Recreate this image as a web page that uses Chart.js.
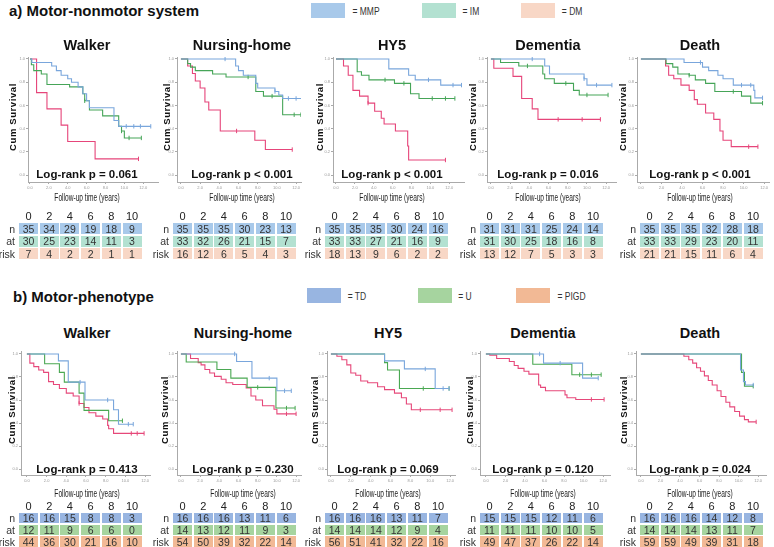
<!DOCTYPE html>
<html>
<head>
<meta charset="utf-8">
<script src="https://cdn.jsdelivr.net/npm/chart.js@4.4.1/dist/chart.umd.min.js"></script>
<style>
  body { margin: 0; width: 774px; height: 547px; position: relative; overflow: hidden; background: #fff;
         font-family: "Liberation Sans", Arial, sans-serif; color: #222; }
  canvas { position: absolute; }
  .t { position: absolute; white-space: nowrap; line-height: 1; }
</style>
</head>
<body>
<script>
// ---- data: survival curves, [years, cum survival, censored?] ----
var walkerMMP = [[0,1],[0.2,0.97],[2.3,0.94],[2.8,0.9],[3.3,0.86],[4.0,0.83],[4.4,0.8],[5.1,0.76],[5.6,0.7],[6.0,0.64],[6.3,0.58],[8.9,0.47],[9.4,0.42],[10.2,0.42,1],[11.0,0.42,1],[11.7,0.42,1],[12.8,0.42,1]];
var walkerIM = [[0,1],[0.15,0.95],[0.4,0.9],[1.2,0.87],[1.8,0.78],[4.2,0.76],[5.6,0.7],[5.8,0.64,1],[6.3,0.56],[7.7,0.51],[9.4,0.42],[9.7,0.38,1],[10.0,0.32],[10.5,0.32,1],[11.8,0.32,1]];
var walkerDM = [[0,1],[0.7,0.71],[1.8,0.57],[3.3,0.43],[4.0,0.29],[6.9,0.14],[11.5,0.14,1]];

var nursingMMP = [[0,1],[4.6,1,1],[5.7,0.94],[6.0,0.9],[6.5,0.86],[7.8,0.79],[8.0,0.75],[9.8,0.72,1],[10.2,0.69],[10.6,0.66],[11.2,0.66,1],[12.0,0.66,1],[12.8,0.66,1]];
var nursingIM = [[0,1],[0.7,0.96],[1.0,0.93],[1.5,0.9],[3.3,0.87],[4.7,0.845],[7.0,0.845,1],[7.8,0.72],[8.6,0.68],[9.5,0.68,1],[10.6,0.52],[11.8,0.52,1],[12.5,0.52,1]];
var nursingDM = [[0,1],[0.7,0.94],[1.2,0.875],[1.5,0.81],[2.0,0.75],[2.5,0.63],[2.9,0.56],[4.1,0.38],[5.8,0.38,1],[7.7,0.3],[8.8,0.22],[11.6,0.22,1]];

var hy5MMP = [[0,1],[5.6,0.915],[7.7,0.86],[8.4,0.82],[9.8,0.82,1],[11.1,0.775],[12.4,0.775,1],[13.3,0.775,1]];
var hy5IM = [[0,1],[2.25,0.89],[2.7,0.86],[3.5,0.82],[5.2,0.82,1],[6.2,0.79],[7.2,0.79,1],[7.9,0.7],[8.8,0.66],[10.2,0.66,1],[11.6,0.66,1],[12.6,0.66,1]];
var hy5DM = [[0,1],[0.8,0.94],[1.3,0.86],[1.8,0.73],[2.5,0.68],[3.4,0.62,1],[4.1,0.55],[4.8,0.49],[5.1,0.44],[6.3,0.38],[7.6,0.25],[7.7,0.13],[11.6,0.13,1]];

var dementiaMMP = [[0,1],[4.3,1,1],[5.6,0.94],[6.1,0.87],[9.7,0.83,1],[10.0,0.775],[11.0,0.775,1],[12.6,0.775,1]];
var dementiaIM = [[0,1],[1.0,0.97],[2.9,0.94],[3.8,0.94,1],[5.4,0.87],[5.6,0.83],[6.6,0.79],[7.8,0.79,1],[8.6,0.73],[9.2,0.69],[10.0,0.69,1],[12.2,0.69,1]];
var dementiaDM = [[0,1],[0.3,0.92],[2.3,0.85],[3.2,0.66],[4.3,0.57],[4.9,0.48],[7.0,0.48,1],[9.5,0.48,1],[11.4,0.48,1]];

var deathMMP = [[0,1],[4.2,0.97],[5.8,0.97,1],[6.0,0.93],[6.6,0.9],[7.5,0.86],[8.0,0.83],[9.0,0.775],[9.8,0.775,1],[10.7,0.775,1],[11.0,0.73],[11.1,0.665],[11.85,0.665,1]];
var deathIM = [[0,1],[2.45,0.96],[3.1,0.93],[3.6,0.87],[4.7,0.86,1],[5.3,0.82],[6.3,0.79],[7.2,0.72],[9.0,0.72,1],[9.8,0.68],[10.7,0.62],[11.85,0.62,1]];
var deathDM = [[0,1],[2.4,0.94],[2.7,0.86],[3.2,0.83],[3.9,0.775],[4.7,0.73],[5.2,0.65],[5.5,0.61],[6.3,0.535],[7.1,0.48],[7.7,0.38],[8.0,0.3],[8.8,0.245],[10.5,0.245,1],[11.4,0.245,1]];

var walkerTD = [[0,1],[3.2,0.94],[4.2,0.755],[5.4,0.755,1],[5.9,0.6],[8.2,0.6,1],[8.8,0.515],[9.3,0.39],[10.3,0.39,1],[10.8,0.39,1]];
var walkerU = [[0,1],[1.8,0.915],[3.3,0.84],[3.8,0.755],[5.3,0.66],[5.8,0.51],[8.3,0.42],[9.3,0.42,1],[9.7,0.42,1]];
var walkerPIGD = [[0,1],[0.3,0.92],[0.7,0.89],[1.2,0.86],[1.7,0.84],[2.2,0.76],[2.7,0.735],[3.3,0.7],[4.0,0.66],[4.7,0.635],[5.3,0.57,1],[5.8,0.535],[6.3,0.49],[7.0,0.46],[7.7,0.435],[8.2,0.38],[8.3,0.35],[8.8,0.31],[10.6,0.31,1],[11.2,0.31,1],[11.9,0.31,1]];

var nursingTD = [[0,1],[5.6,1,1],[5.8,0.935],[7.4,0.79],[9.2,0.79,1],[10.0,0.68],[10.8,0.68,1],[11.5,0.68,1]];
var nursingU = [[0,1],[0.55,0.93],[3.75,0.865],[5.2,0.79],[6.9,0.71],[8.0,0.71,1],[9.9,0.53],[11.0,0.53,1],[11.9,0.53,1]];
var nursingPIGD = [[0,1],[1.0,0.96],[1.8,0.925],[2.1,0.905],[2.5,0.865],[3.0,0.835],[3.5,0.805],[4.2,0.78],[4.7,0.75],[5.4,0.735],[6.8,0.705],[7.3,0.635],[7.8,0.6],[8.5,0.55],[9.7,0.52],[10.0,0.48],[11.0,0.48,1],[12.0,0.48,1]];

var hy5TD = [[0,1],[5.4,0.94],[7.4,0.87],[9.5,0.87,1],[10.5,0.7],[11.3,0.7,1],[11.9,0.7,1]];
var hy5U = [[0,1],[5.4,0.925],[5.7,0.86],[6.9,0.7],[9.3,0.7,1],[11.9,0.7,1]];
var hy5PIGD = [[0,1],[0.6,0.98],[1.1,0.95],[1.6,0.905],[2.0,0.835],[2.5,0.815],[3.0,0.765],[3.7,0.75],[4.7,0.715],[5.4,0.69],[6.4,0.66],[7.1,0.62],[7.6,0.565],[8.1,0.515],[9.0,0.515,1],[11.0,0.515,1],[12.2,0.515,1]];

var dementiaTD = [[0,1],[5.5,1,1],[5.9,0.92],[7.6,0.92,1],[9.9,0.79],[11.5,0.79,1]];
var dementiaU = [[0,1],[4.8,0.91],[8.8,0.82],[9.6,0.82,1],[10.8,0.82,1],[11.8,0.82,1]];
var dementiaPIGD = [[0,1],[0.4,0.99],[1.1,0.96],[2.4,0.935],[2.9,0.9],[3.3,0.875],[3.9,0.85],[4.4,0.825],[5.4,0.73],[5.6,0.71],[6.1,0.68],[8.1,0.645],[8.3,0.62],[9.2,0.605],[10.8,0.605,1],[12.1,0.605,1]];

var deathTD = [[0,1],[10.2,0.86],[10.5,0.76],[10.7,0.73],[11.5,0.73,1]];
var deathU = [[0,1],[10.3,0.84],[10.6,0.72],[11.5,0.72,1]];
var deathPIGD = [[0,1],[4.4,0.98],[4.9,0.95],[5.3,0.92],[5.7,0.88],[6.1,0.85],[6.5,0.81],[6.9,0.77],[7.3,0.73],[7.8,0.68],[8.2,0.63],[8.7,0.58],[9.1,0.54],[9.6,0.5],[10.1,0.46],[10.6,0.43],[11.0,0.41],[11.8,0.41,1]];

// ---- data: numbers at risk (n / at / risk rows) ----
var riskYears = [0, 2, 4, 6, 8, 10];
var riskWalkerA = [[35,34,29,19,18,9],[30,25,23,14,11,3],[7,4,2,2,1,1]];
var riskNursingA = [[35,35,35,30,23,13],[33,32,26,21,15,7],[16,12,6,5,4,3]];
var riskHy5A = [[35,35,35,30,24,16],[33,33,27,21,16,9],[18,13,9,6,2,2]];
var riskDementiaA = [[31,31,31,25,24,14],[31,30,25,18,16,8],[13,12,7,5,3,3]];
var riskDeathA = [[35,35,35,32,28,18],[33,33,29,23,20,11],[21,21,15,11,6,4]];
var riskWalkerB = [[16,16,15,8,8,3],[12,11,9,6,6,0],[44,36,30,21,16,10]];
var riskNursingB = [[16,16,16,13,11,6],[14,13,12,11,9,3],[54,50,39,32,22,14]];
var riskHy5B = [[16,16,16,13,11,7],[14,14,14,12,9,4],[56,51,41,32,22,16]];
var riskDementiaB = [[15,15,15,12,11,6],[11,11,11,10,10,5],[49,47,37,26,22,14]];
var riskDeathB = [[16,16,16,14,12,8],[14,14,14,13,11,7],[59,59,49,39,31,18]];

var outcomes = ['Walker', 'Nursing-home', 'HY5', 'Dementia', 'Death'];
var pValuesA = ['p = 0.061', 'p < 0.001', 'p < 0.001', 'p = 0.016', 'p < 0.001'];
var pValuesB = ['p = 0.413', 'p = 0.230', 'p = 0.069', 'p = 0.120', 'p = 0.024'];
var groupsA = ['MMP', 'IM', 'DM'];
var groupsB = ['TD', 'U', 'PIGD'];
var xTicks = [0, 2, 4, 6, 8, 10, 12];
var yTicks = [0, 0.2, 0.4, 0.6, 0.8, 1.0];
var rowLabels = ['n', 'at', 'risk'];

// ---- layout ----
var rowA = { top: 55, bottom: 182, one: 57, zero: 175, titleY: 45, logY: 175, xTitleY: 197,
  tableY: 216, firstRow: 12.5, rowPitch: 12.5, cellH: 11,
  axis: [28,177,333,487,637], x0: [30,181,336,491,641], x12: [145,298,451,608,766], right: [160,303,466,618,771],
  cx: [87,242,392,548,700], cumX: [13,167,320,473,623], cell: [19,173,325,480,640],
  line: ['#79a6dc','#46a558','#e6457a'], fill: ['#a8c9ea','#b3e1d1','#f8d7c6'],
  curves: [[walkerMMP,walkerIM,walkerDM],[nursingMMP,nursingIM,nursingDM],[hy5MMP,hy5IM,hy5DM],[dementiaMMP,dementiaIM,dementiaDM],[deathMMP,deathIM,deathDM]],
  risk: [riskWalkerA,riskNursingA,riskHy5A,riskDementiaA,riskDeathA], p: pValuesA };
var rowB = { top: 349, bottom: 475, one: 352, zero: 469, titleY: 333, logY: 470, xTitleY: 493,
  tableY: 506, firstRow: 12, rowPitch: 11.8, cellH: 10.5,
  axis: [21,177,327,480,636], x0: [27,181,331,486,641], x12: [147,298,452,605,760], right: [152,303,457,612,768],
  cx: [87,243,388,543,700], cumX: [12,165,315,470,624], cell: [19,173,325,480,640],
  line: ['#79a6dc','#4aa852','#e6487a'], fill: ['#98b5e1','#a6d49f','#f2b995'],
  curves: [[walkerTD,walkerU,walkerPIGD],[nursingTD,nursingU,nursingPIGD],[hy5TD,hy5U,hy5PIGD],[dementiaTD,dementiaU,dementiaPIGD],[deathTD,deathU,deathPIGD]],
  risk: [riskWalkerB,riskNursingB,riskHy5B,riskDementiaB,riskDeathB], p: pValuesB };

function label(text, x, y, style, anchor, extra) {
  var d = document.createElement('div');
  d.className = 't';
  d.textContent = text;
  d.style.cssText += 'left:' + x + 'px;top:' + y + 'px;' + (style || '');
  var tx = anchor === 'left' ? '0' : anchor === 'right' ? '-100%' : '-50%';
  d.style.transform = 'translate(' + tx + ',-50%) ' + (extra || '');
  document.body.appendChild(d);
  return d;
}

function box(x, y, w, h, color) {
  var d = document.createElement('div');
  d.style.cssText = 'position:absolute;left:' + x + 'px;top:' + y + 'px;width:' + w + 'px;height:' + h + 'px;background:' + color;
  document.body.appendChild(d);
  return d;
}

function drawPanel(row, i) {
  var padL = 12, padT = 3, padR = 3, xh = 10;
  var k = (row.x12[i] - row.x0[i]) / 12;
  var yk = row.zero - row.one;
  var left = row.axis[i] - padL, top = row.top - padT;
  var w = row.right[i] - left + padR, h = row.bottom - top + xh;
  var c = document.createElement('canvas');
  c.width = w; c.height = h;
  c.style.left = left + 'px'; c.style.top = top + 'px';
  c.style.width = w + 'px'; c.style.height = h + 'px';
  document.body.appendChild(c);

  var datasets = row.curves[i].map(function (pts, j) {
    return {
      data: pts.map(function (p) { return { x: p[0], y: p[1] }; }),
      borderColor: row.line[j],
      borderWidth: 1.1,
      stepped: true,
      fill: false,
      pointStyle: 'line',
      rotation: 90,
      pointBorderColor: row.line[j],
      pointBorderWidth: 1,
      pointRadius: function (ctx) { return pts[ctx.dataIndex] && pts[ctx.dataIndex][2] ? 2.2 : 0; }
    };
  });

  var axisStyle = function (ticks, fmt, fit) {
    return {
      type: 'linear',
      afterBuildTicks: function (s) { s.ticks = ticks.map(function (v) { return { value: v }; }); },
      afterFit: fit,
      grid: { drawOnChartArea: false, tickLength: 2, color: '#aaa' },
      border: { color: '#aaa', width: 1 },
      ticks: { font: { size: 4 }, color: '#999', padding: 1, maxRotation: 0, autoSkip: false, callback: fmt }
    };
  };
  var xs = axisStyle(xTicks, function (v) { return v.toFixed(1); }, function (s) { s.height = xh; });
  xs.min = -(row.x0[i] - row.axis[i]) / k;
  xs.max = (row.right[i] - row.x0[i]) / k;
  var ys = axisStyle(yTicks, function (v) { return v.toFixed(1); }, function (s) { s.width = padL; });
  ys.min = -(row.bottom - row.zero) / yk;
  ys.max = 1 + (row.one - row.top) / yk;

  new Chart(c, {
    type: 'line',
    data: { datasets: datasets },
    options: {
      responsive: false, animation: false, events: [],
      layout: { padding: { top: padT, right: padR, left: 0, bottom: 0 } },
      plugins: { legend: { display: false }, tooltip: { enabled: false } },
      scales: { x: xs, y: ys }
    }
  });

  label(outcomes[i], row.cx[i], row.titleY, 'font-size:14.5px;font-weight:bold;color:#111;');
  label('Log-rank ' + row.p[i], row.cx[i], row.logY, 'font-size:11.5px;font-weight:bold;color:#111;');
  label('Follow-up time (years)', row.cx[i], row.xTitleY, 'font-size:11px;color:#222;', 'center', 'scaleX(0.6)');
  label('Cum Survival', row.cumX[i], (row.top + row.bottom) / 2 - 2, 'font-size:9.5px;font-weight:bold;letter-spacing:0.6px;color:#111;', 'center', 'rotate(-90deg)');

  // risk table
  var pitch = 20.7, cw = 19;
  riskYears.forEach(function (yr, c2) {
    label(String(yr), row.cell[i] + c2 * pitch + cw / 2, row.tableY, 'font-size:11px;color:#222;');
  });
  row.risk[i].forEach(function (vals, r) {
    var yc = row.tableY + row.firstRow + r * row.rowPitch;
    label(rowLabels[r], row.cell[i] - 4, yc, 'font-size:10.5px;color:#333;', 'right');
    vals.forEach(function (v, c2) {
      var x = row.cell[i] + c2 * pitch;
      box(x, yc - row.cellH / 2, cw, row.cellH, row.fill[r]);
      label(String(v), x + cw / 2, yc, 'font-size:10.5px;color:#333;');
    });
  });
}

// section headers and legends
label('a)  Motor-nonmotor system', 9, 10, 'font-size:15px;font-weight:bold;color:#111;', 'left');
label('b)  Motor-phenotype', 13, 296, 'font-size:15px;font-weight:bold;color:#111;', 'left');
var legAx = [311, 422, 521], legBx = [307, 418, 516];
groupsA.forEach(function (g, j) {
  box(legAx[j], 3, 34, 15, rowA.fill[j]);
  label('= ' + g, legAx[j] + 39, 12, 'font-size:10px;color:#333;', 'left', 'scaleX(0.85)');
});
groupsB.forEach(function (g, j) {
  box(legBx[j], 288, 34, 15, rowB.fill[j]);
  label('= ' + g, legBx[j] + 39, 297, 'font-size:10px;color:#333;', 'left', 'scaleX(0.85)');
});

for (var i = 0; i < 5; i++) { drawPanel(rowA, i); drawPanel(rowB, i); }
</script>
</body>
</html>
